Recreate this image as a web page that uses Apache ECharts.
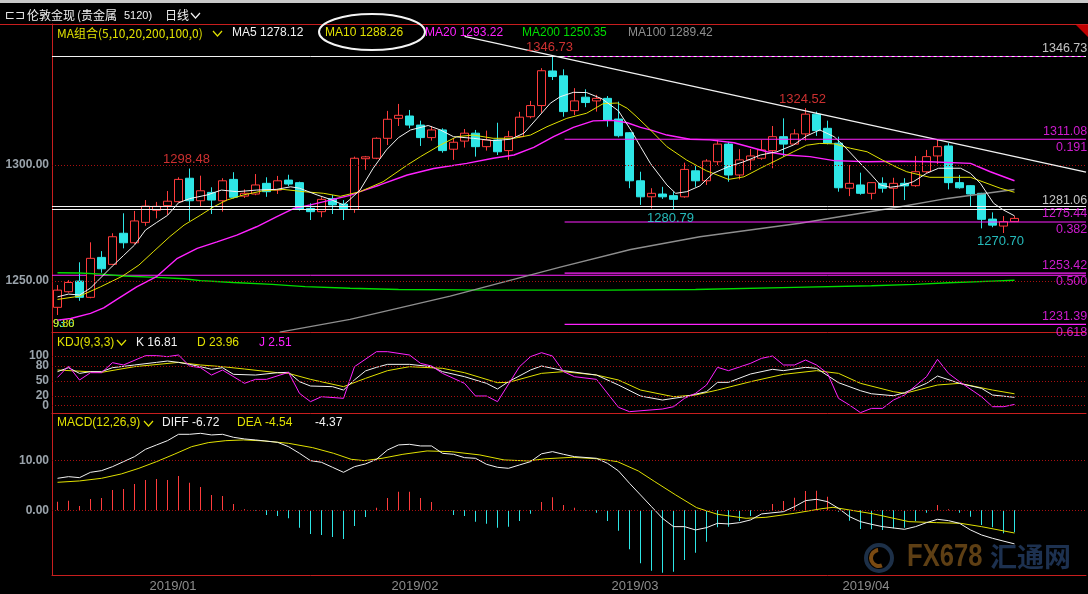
<!DOCTYPE html>
<html>
<head>
<meta charset="utf-8">
<title>伦敦金现 日线</title>
<script src="https://cdn.jsdelivr.net/npm/echarts@6/dist/echarts.min.js"></script>
<style>
  html, body { margin: 0; padding: 0; background: #000; }
  #chart { width: 1088px; height: 594px; }
</style>
</head>
<body>
<div id="chart"></div>
<script>
// trading days shown on the chart
const dates = [
  '2018/12/14','2018/12/17','2018/12/18','2018/12/19','2018/12/20','2018/12/21','2018/12/24','2018/12/26','2018/12/27','2018/12/28','2018/12/31',
  '2019/01/02','2019/01/03','2019/01/04','2019/01/07','2019/01/08','2019/01/09','2019/01/10','2019/01/11','2019/01/14','2019/01/15','2019/01/16',
  '2019/01/17','2019/01/18','2019/01/21','2019/01/22','2019/01/23','2019/01/24','2019/01/25','2019/01/28','2019/01/29','2019/01/30','2019/01/31',
  '2019/02/01','2019/02/04','2019/02/05','2019/02/06','2019/02/07','2019/02/08','2019/02/11','2019/02/12','2019/02/13','2019/02/14','2019/02/15',
  '2019/02/18','2019/02/19','2019/02/20','2019/02/21','2019/02/22','2019/02/25','2019/02/26','2019/02/27','2019/02/28',
  '2019/03/01','2019/03/04','2019/03/05','2019/03/06','2019/03/07','2019/03/08','2019/03/11','2019/03/12','2019/03/13','2019/03/14','2019/03/15',
  '2019/03/18','2019/03/19','2019/03/20','2019/03/21','2019/03/22','2019/03/25','2019/03/26','2019/03/27','2019/03/28','2019/03/29',
  '2019/04/01','2019/04/02','2019/04/03','2019/04/04','2019/04/05','2019/04/08','2019/04/09','2019/04/10','2019/04/11','2019/04/12',
  '2019/04/15','2019/04/16','2019/04/17','2019/04/18'
];
const blankDays = ['', '', '', '', '', ''];

// [open, close, low, high]
const candles = [
  [1238.7,1246.1,1235.4,1248.3],[1245.4,1249.4,1245.0,1250.4],[1250.0,1243.0,1241.5,1258.1],[1243.0,1259.8,1242.6,1266.7],
  [1260.2,1255.3,1253.6,1262.9],[1257.2,1269.1,1256.8,1270.6],[1270.6,1266.5,1264.1,1279.2],[1266.5,1275.9,1266.0,1280.2],
  [1275.3,1282.3,1273.8,1284.9],[1280.5,1282.2,1277.0,1284.1],[1282.5,1284.4,1278.5,1288.8],[1284.2,1293.8,1283.8,1294.7],
  [1294.3,1284.6,1275.9,1298.48],[1284.6,1288.9,1282.3,1295.4],[1288.2,1284.9,1278.9,1290.4],[1284.6,1293.2,1279.9,1294.3],
  [1293.8,1286.1,1285.6,1296.9],[1286.6,1287.8,1285.8,1289.5],[1287.5,1291.4,1287.0,1296.1],[1292.1,1288.5,1286.3,1294.7],
  [1289.2,1293.2,1287.5,1295.3],[1293.5,1291.8,1290.9,1295.8],[1292.4,1280.9,1280.4,1292.8],[1281.3,1279.9,1276.3,1283.5],
  [1279.9,1285.2,1277.5,1286.1],[1285.5,1282.8,1278.9,1287.1],[1283.2,1280.9,1276.3,1284.9],[1280.9,1302.9,1279.4,1303.6],
  [1302.7,1303.5,1297.9,1303.9],[1302.9,1311.5,1302.5,1311.9],[1311.5,1319.7,1308.6,1323.3],[1320.1,1321.4,1316.8,1326.3],
  [1321.1,1317.2,1315.8,1323.7],[1317.2,1311.8,1308.2,1319.1],[1311.8,1315.1,1310.5,1316.8],[1315.1,1306.2,1305.3,1315.8],
  [1306.8,1309.8,1302.2,1311.5],[1310.3,1313.7,1307.5,1315.5],[1313.7,1307.9,1303.6,1315.1],[1307.9,1310.8,1306.2,1314.8],
  [1310.8,1305.7,1304.3,1318.2],[1306.2,1312.2,1302.2,1314.7],[1312.2,1320.6,1311.8,1322.9],[1320.8,1325.6,1320.1,1327.6],
  [1325.6,1340.6,1322.5,1341.7],[1340.5,1338.1,1336.6,1346.73],[1338.4,1323.0,1320.8,1341.2],[1323.4,1327.6,1321.5,1333.1],
  [1329.2,1326.9,1324.9,1332.6],[1327.6,1328.7,1323.0,1330.2],[1328.7,1319.4,1316.5,1329.7],[1319.8,1312.6,1311.9,1327.3],
  [1313.9,1293.2,1290.0,1314.2],[1293.2,1286.3,1282.8,1297.1],[1286.3,1287.8,1281.3,1290.0],[1287.5,1286.3,1285.4,1290.6],
  [1286.8,1285.2,1280.79,1288.5],[1286.3,1298.1,1285.9,1301.0],[1297.5,1293.2,1290.6,1299.6],[1293.2,1301.7,1291.4,1302.5],
  [1301.4,1309.0,1300.0,1310.8],[1309.0,1295.7,1292.8,1310.0],[1295.7,1302.2,1293.8,1306.8],[1302.2,1303.9,1297.8,1306.9],
  [1302.9,1306.5,1302.2,1310.8],[1306.2,1312.2,1298.6,1316.8],[1312.2,1309.0,1303.6,1320.1],[1309.0,1313.4,1308.6,1315.4],
  [1313.4,1321.9,1310.5,1324.52],[1321.9,1314.8,1312.5,1323.0],[1315.8,1309.4,1308.9,1319.1],[1309.4,1290.2,1288.5,1312.2],
  [1290.0,1292.1,1286.6,1300.0],[1291.4,1287.8,1287.2,1296.7],[1287.8,1292.4,1285.2,1292.6],[1292.1,1290.0,1288.1,1294.7],
  [1290.0,1292.1,1282.0,1294.5],[1292.1,1291.0,1284.9,1294.3],[1291.1,1297.1,1290.6,1303.9],[1297.1,1303.6,1296.4,1306.5],
  [1303.9,1307.9,1300.4,1310.8],[1308.2,1292.4,1289.5,1309.4],[1292.4,1290.2,1289.8,1295.7],[1291.1,1287.5,1282.3,1291.3],
  [1287.8,1276.6,1272.7,1288.0],[1276.7,1274.1,1273.2,1279.6],[1273.7,1275.6,1270.70,1278.0],[1275.6,1277.0,1275.4,1278.0]
];

// moving averages, [day index, value]
const ma5 = [[0,1243.2],[1,1244.4],[2,1244.0],[3,1247.0],[5,1256.5],[6,1261.0],[7,1265.5],[8,1272.0],[9,1275.2],[10,1278.3],
  [11,1283.7],[12,1285.5],[13.6,1287.1],[14.9,1289.2],[16.3,1288.5],[18.1,1289.2],[19.9,1289.5],[21.2,1290.6],[22,1290.0],
  [23.6,1287.1],[24.8,1285.2],[26,1282.8],[26.6,1285.2],[27.5,1289.2],[28.7,1298.6],[29.9,1306.5],[31,1311.8],[32.1,1315.1],
  [33.7,1317.0],[34.8,1315.1],[36,1312.2],[37.8,1311.5],[39.6,1310.5],[41.2,1311.1],[42.4,1313.7],[43.6,1320.1],[44.8,1326.6],
  [45.7,1329.4],[46.9,1331.3],[48.1,1331.2],[49.5,1328.5],[51,1323.3],[52.2,1314.5],[53,1307.9],[53.9,1300.7],[55.4,1291.4],
  [56.2,1287.8],[57.2,1288.5],[58.4,1291.0],[59.6,1296.4],[61,1299.3],[62.4,1301.4],[63.9,1304.3],[65.4,1305.7],[66.9,1308.6],
  [68.1,1312.5],[69.3,1315.1],[70.6,1312.2],[71.5,1308.2],[72.7,1302.1],[74,1295.7],[74.8,1291.4],[75.7,1290.4],[76.6,1291.0],
  [77.8,1292.8],[79,1296.4],[80.1,1298.6],[82.1,1298.6],[83,1296.4],[83.9,1292.1],[85.1,1283.5],[86,1280.6],[87,1278.12]];
const ma10 = [[0,1242.1],[2,1243.5],[3.9,1247.5],[5.9,1252.1],[7.4,1256.9],[8.7,1262.6],[10.2,1269.1],[11.5,1274.1],[13,1278.4],
  [14.2,1282.0],[15.4,1284.9],[16.9,1287.1],[18.7,1288.9],[20.5,1289.5],[22.4,1288.5],[24.2,1287.8],[25.7,1286.5],[27.5,1288.5],
  [29.6,1292.8],[31.8,1300.0],[33,1303.6],[34.8,1308.6],[36.3,1312.2],[37.8,1312.9],[39.6,1311.5],[41.5,1311.5],[43,1312.9],
  [44.5,1316.5],[46.3,1320.1],[48.1,1322.3],[49.6,1326.4],[50.9,1326.7],[51.8,1324.4],[52.6,1321.0],[53.9,1315.1],[55.4,1307.9],
  [57.2,1302.1],[59,1297.5],[61,1293.8],[62.4,1294.9],[63.9,1298.6],[65.4,1302.1],[66.9,1305.7],[68.1,1308.5],[69.3,1309.3],
  [70.6,1309.1],[72.1,1307.2],[73.6,1305.7],[75,1302.1],[76.3,1299.0],[77.2,1297.1],[79.3,1294.7],[83,1294.7],[84.5,1292.1],
  [85.7,1290.0],[87,1288.26]];
const ma20 = [[0,1233.2],[1.2,1233.9],[3,1236.1],[4.2,1238.5],[5.4,1242.1],[7.2,1247.5],[9,1251.9],[10.9,1259.8],[12.7,1264.1],
  [14.5,1266.9],[16.3,1269.8],[18.1,1273.4],[19.9,1277.7],[21.5,1281.3],[23,1282.8],[24.8,1284.9],[26.6,1286.9],[27.5,1288.5],
  [29.3,1291.4],[31.8,1295.7],[34.2,1298.5],[37.2,1300.7],[39.6,1302.9],[41.5,1304.3],[43.3,1307.6],[45.1,1312.2],[46.9,1316.2],
  [48.7,1319.0],[50.5,1319.2],[51.8,1318.2],[53,1316.2],[53.9,1315.1],[55.4,1312.9],[57.5,1311.1],[59.3,1310.8],[61.5,1309.6],
  [64.5,1305.7],[66.3,1304.3],[68.4,1303.6],[70.6,1301.9],[73.6,1301.4],[76.6,1301.6],[79.3,1301.4],[83,1300.7],[84.8,1297.1],
  [87,1293.22]];
const ma200 = [[0,1253.6],[2,1253.5],[4,1253.0],[6,1252.2],[9,1251.6],[11.5,1251.0],[13,1250.2],[16,1249.4],[19.5,1248.6],
  [22.5,1247.6],[26.6,1246.9],[31,1246.4],[40,1246.1],[50,1246.1],[58,1246.4],[67,1247.3],[74,1248.0],[78,1248.6],[81,1249.3],
  [85,1250.0],[87,1250.35]];
const ma100 = [[20.2,1228.0],[26.6,1233.5],[35.7,1243.5],[45.7,1256.0],[52.1,1263.6],[58.4,1269.1],[67.5,1274.9],[76.6,1282.0],
  [80.9,1285.6],[87,1289.42]];

// drawn lines on the price panel
const trendLine = [[37, 1355.4], [93.5, 1296.9]];
const whiteLevels = [1346.73, 1282.12, 1280.83];
const midLevel = 1252.5;
const fibStart = 46.1;
const fibLevels = [1311.08, 1275.44, 1253.42, 1231.39];
const fibRatios = ['0.191', '0.382', '0.500', '0.618'];
const topLevel = 1346.73;
const supportLabel = 1281.06;
const highMarks = [[12, 1298.48], [45, 1346.73], [68, 1324.52]];
const lowMarks = [[56, 1280.79], [86, 1270.70]];

// KDJ(9,3,3)
const kLine = [[0,68.5],[1,76.5],[2,65],[3,68.5],[4,68.5],[5,76.5],[7,81.9],[9,87.2],[10,89.9],[11,87.2],[12,83.2],[13,78.5],
  [14,73.2],[15,76.5],[16,63.1],[18,61.7],[20,66.4],[21,67.1],[22,48.3],[23,39.6],[25,38.3],[26,31.5],[27,52],[28,70],[29,77.2],
  [30,83.2],[32,83.2],[34,78.5],[35,68.5],[37,58.4],[39,45],[40,33.6],[41,48.3],[43,71.8],[44,79.9],[46,70.5],[49,61.7],[51,41.6],
  [53,19.5],[55,11.4],[57,18.1],[59,28.2],[60,47],[61,47],[63,63.8],[65,73.2],[66,70.5],[68,77.2],[69,75.2],[71,46.3],[73,30.2],
  [74,24],[76,20.1],[77,26.2],[79,45],[80,59.7],[82,45],[84,34.9],[85,21.5],[87,16.81]];
const dLine = [[0,71.8],[4,67.1],[7,78.5],[11,87.2],[13,81.9],[15,78.5],[17,73.8],[20,66.4],[21,65.1],[23,53],[26,38.3],[28,55],
  [30,70.5],[32,78.5],[35,75.2],[37,66.4],[40,46.3],[41,47],[44,65.1],[46,68.5],[49,61.7],[51,51.7],[53,31.5],[56,18.1],[58,21.5],
  [60,31.5],[63,48.3],[66,63.1],[69,70.5],[71,65.1],[73,45],[76,28.2],[77,24.8],[80,41.6],[82,45],[85,31.5],[87,23.96]];
const jLine = [[0,57],[1,79.9],[2,51.7],[3,66.4],[4,66.4],[5,86.6],[6,81.9],[8,100.7],[9,100.7],[10,98.7],[11,102],[12,79.9],
  [13,76.5],[14,61.7],[15,71.8],[17,45],[18,53],[19,53],[21,67.1],[22,24.8],[23,8.1],[24,18.1],[26,14.8],[27,78.5],[29,108.7],
  [30,108.7],[32,102],[33,85.2],[34,79.9],[35,65.1],[37,45],[38,19.5],[39,19.5],[40,8.1],[42,78.5],[43,98.7],[44,106.7],[45,100],
  [46,68.5],[47,58.4],[49,53],[51,-3.3],[52,-12],[55,-6.7],[56,-2],[57,14.8],[58,24.8],[59,41.6],[60,77.2],[61,70.5],[63,85.2],
  [64,95.3],[65,100],[66,81.9],[67,81.9],[68,91.9],[69,81.9],[70,65.1],[71,14.8],[72,1.3],[73,-14],[74,-5.4],[75,-5.4],[76,11.4],
  [77,21.5],[79,58.4],[80,93.3],[81,65.1],[82,48.3],[84,18.1],[85,-2],[86,-2],[87,2.51]];
const kdjTicks = [0, 20, 50, 80, 100];

// MACD(12,26,9)
const diffLine = [[0,6.4],[1,6.73],[2,6.53],[3,7.6],[4,7.93],[5,8.73],[6,9.73],[7,10.73],[8,12.2],[9,13.07],[10,13.93],[11,15.2],
  [12,15.2],[13,15.4],[14,15.07],[15,15.2],[16,14.6],[17,14.27],[18,14.07],[20,13.6],[21,12.73],[22,11.4],[23,9.93],[24,9.6],
  [25,8.6],[26,7.6],[27,8.73],[28,9.27],[29,10.2],[30,12.07],[31,13.07],[32,13.2],[33,12.87],[34,12.87],[35,11.4],[36,11.2],
  [37,10.53],[38,10.4],[39,9.2],[40,8.6],[41,8.4],[42,9.07],[43,9.73],[44,11.3],[45,11.73],[46,11.2],[47,10.73],[49,10.4],
  [50,9.4],[51,7.87],[52,5.4],[53,3.07],[54,0.73],[55,-1.6],[56,-3.27],[57,-3.27],[58,-3.93],[59,-3.47],[60,-2.6],[61,-2.73],
  [62,-2.47],[63,-1.93],[64,-0.73],[66,-0.27],[67,0.73],[68,1.93],[69,2.2],[70,1.73],[71,0.4],[72,-1.27],[73,-2.27],[74,-2.8],
  [75,-3.27],[77,-3.8],[78,-3.27],[79,-2.47],[80,-1.8],[81,-2.07],[82,-2.6],[83,-3.93],[84,-4.93],[85,-5.6],[87,-6.72]];
const deaLine = [[0,5.6],[2,5.87],[4,6.4],[5.8,7.27],[7.4,8.4],[9,9.73],[10.6,11.2],[12.2,12.73],[13.7,13.53],[15.3,13.93],
  [16.9,14.07],[18.8,13.87],[21,13.4],[23.2,12.53],[25.1,11.4],[26.7,10.2],[27.9,9.93],[29.5,10.4],[31.4,11.2],[33.6,11.87],
  [35.8,11.73],[38.4,11.07],[40.6,10.07],[42.8,9.87],[44.3,10.3],[46.8,10.6],[49.3,10.27],[50.9,9.73],[52.8,7.87],[54.3,5.73],
  [56.2,3.07],[58.1,0.53],[60,-0.8],[62.6,-1.6],[64.4,-1.4],[67,-0.6],[69.5,0.33],[70.5,0.6],[72,0.07],[74.2,-0.73],[77.4,-2.27],
  [79.9,-2.47],[82.1,-2.6],[84,-3.27],[87,-4.54]];
const macdHist = [1.73,1.93,0.87,2.27,2.47,4.07,4.27,5.27,6.07,6.27,6.07,6.87,5.53,4.67,3.07,2.87,1.27,0.2,-0.07,-0.93,
  -1.13,-1.6,-3.47,-4.73,-4.93,-5.33,-5.73,-3.13,-1.33,0.53,2.47,3.73,3.73,2.47,1.67,0,-0.93,-1.13,-2.27,-2.67,
  -3.47,-3.27,-2.13,-0.67,1.67,2.6,1.07,0.53,-0.07,-0.47,-2.13,-4.07,-7.8,-10.6,-12.07,-12.47,-12.27,-9.93,-8.47,-6.27,
  -3.4,-3.27,-2.13,-1.13,0.05,1.27,1.87,2.53,3.87,3.93,2.73,-0.27,-2.07,-3.73,-3.8,-3.93,-3.6,-3.47,-2.13,-0.47,
  1.07,0.2,-0.47,-1.27,-2.93,-3.4,-4.6,-4.37];
const macdTicks = [0, 10];
const priceTicks = [1250, 1300];

(function () {
  const chart = echarts.init(document.getElementById('chart'));

  const RED = '#c81e1e';
  const DOT = '#a81010';
  const UP = '#ff3c3c';
  const DOWN = '#2ee6e6';
  const WHITE = '#f2f2f2';
  const YELLOW = '#e0e000';
  const MAGENTA = '#ff22ff';
  const GREEN = '#00dc00';
  const GRAY = '#8e8e8e';
  const AXIS_TXT = '#9aa3ab';
  const FONT = '"Liberation Sans", Arial, sans-serif';
  const CJK = '"Noto Sans CJK SC", "Liberation Sans", sans-serif';

  const categories = dates.concat(blankDays);
  const xMax = categories.length - 0.5;
  const last = arr => arr[arr.length - 1][1];

  const catAxis = (grid, showLabel) => ({
    type: 'category', gridIndex: grid, data: categories, boundaryGap: true,
    axisLine: { show: true, onZero: false, lineStyle: { color: RED, width: 1 } },
    axisTick: { show: false }, splitLine: { show: false },
    axisLabel: showLabel ? {
      show: true, color: '#8c8c8c', fontSize: 13, fontFamily: FONT, margin: 5,
      padding: [0, 11, 0, 0],
      interval: (idx, v) => v !== '' && (idx === 0 ? false : v.slice(0, 7) !== categories[idx - 1].slice(0, 7)),
      formatter: v => v.slice(0, 7)
    } : { show: false }
  });
  const valAxis = grid => ({
    type: 'value', gridIndex: grid, min: -0.5, max: xMax, show: false,
    axisLine: { onZero: false }, splitLine: { show: false }
  });
  const yAxis = (grid, min, max, ticks, digits, showLine) => ({
    type: 'value', gridIndex: grid, min: min, max: max, position: 'left',
    axisLine: { show: showLine !== false, onZero: false, lineStyle: { color: RED, width: 1 } },
    axisTick: { show: false }, splitLine: { show: false },
    axisLabel: {
      show: true, customValues: ticks, color: AXIS_TXT, fontWeight: 'bold', fontSize: 12, hideOverlap: false,
      fontFamily: FONT, margin: 3, padding: [5, 0, 0, 0], backgroundColor: 'rgba(0,0,0,0)',
      formatter: v => Number(v).toFixed(digits)
    }
  });
  const dotted = vals => ({
    silent: true, symbol: 'none', label: { show: false },
    lineStyle: { color: DOT, type: [1, 2], width: 1 },
    data: vals.map(v => ({ yAxis: v }))
  });
  const line = (data, color, width, xi, yi, extra) => Object.assign({
    type: 'line', data: data, xAxisIndex: xi, yAxisIndex: yi, symbol: 'none', silent: true,
    lineStyle: { color: color, width: width }, z: 4, animation: false
  }, extra || {});
  const flat = (v, from) => [[from, v], [xMax, v]];

  // labels on the right edge of the price panel
  const edgeLabel = (v, text, color, above) => ({
    value: [xMax - 0.05, v],
    label: {
      show: true, formatter: text, color: color, fontSize: 12.5, fontFamily: FONT,
      position: [2.3, above ? -7.5 : 8.5], align: 'right', verticalAlign: 'middle'
    }
  });
  const edgeLabels = [edgeLabel(topLevel, topLevel.toFixed(2), WHITE, true),
    edgeLabel(supportLabel, supportLabel.toFixed(2), WHITE, true)];
  fibLevels.forEach((v, i) => {
    edgeLabels.push(edgeLabel(v, v.toFixed(2), MAGENTA, true));
    edgeLabels.push(edgeLabel(v, fibRatios[i], MAGENTA, false));
  });
  const markLabel = (p, color, above) => ({
    value: p,
    label: {
      show: true, formatter: p[1].toFixed(2), color: color, fontSize: 13, fontFamily: FONT,
      position: [-2.5, above ? -8.5 : 9], align: 'center', verticalAlign: 'middle'
    }
  });
  const extremes = highMarks.map(p => markLabel(p, UP, true))
    .concat(lowMarks.map(p => markLabel(p, DOWN, false)));

  const series = [
    {
      type: 'candlestick', xAxisIndex: 0, yAxisIndex: 0, data: candles.map(c => c.slice()),
      barWidth: 9, silent: true, z: 3,
      itemStyle: { color: '#000', color0: DOWN, borderColor: UP, borderColor0: DOWN, borderWidth: 1 },
      markLine: dotted(priceTicks)
    },
    line(flat(midLevel, -0.5), MAGENTA, 1, 3, 0, { z: 2 }),
    line(ma200, GREEN, 1.4, 3, 0),
    line(ma100, GRAY, 1.4, 3, 0),
    line(ma20, MAGENTA, 1.4, 3, 0),
    line(ma10, YELLOW, 1, 3, 0),
    line(ma5, WHITE, 1, 3, 0),
    line(trendLine, WHITE, 1.2, 3, 0, { z: 5 })
  ];
  whiteLevels.forEach(v => series.push(line(flat(v, -0.5), WHITE, 1, 3, 0, { z: 5 })));
  series.push(line(flat(topLevel, fibStart), MAGENTA, 1, 3, 0, { z: 6, lineStyle: { color: MAGENTA, width: 1, type: [3, 3] } }));
  fibLevels.forEach(v => series.push(line(flat(v, fibStart), MAGENTA, 1.2, 3, 0, { z: 5 })));
  series.push({
    type: 'scatter', xAxisIndex: 3, yAxisIndex: 0, symbolSize: 1, silent: true, z: 8,
    itemStyle: { color: 'rgba(0,0,0,0)' }, data: edgeLabels.concat(extremes)
  });

  // KDJ panel
  series.push(line(dLine, YELLOW, 1, 4, 1, { markLine: dotted(kdjTicks), z: 3 }));
  series.push(line(kLine, WHITE, 1, 4, 1));
  series.push(line(jLine, MAGENTA, 1, 4, 1));

  // MACD panel
  series.push({
    type: 'bar', xAxisIndex: 2, yAxisIndex: 2, data: macdHist, barWidth: 1, silent: true,
    itemStyle: { color: p => (p.value >= 0 ? UP : DOWN) },
    markLine: dotted(macdTicks)
  });
  series.push(line(deaLine, YELLOW, 1, 5, 2));
  series.push(line(diffLine, WHITE, 1, 5, 2));

  const txt = (x, y, text, color, font, extra) => Object.assign({
    type: 'text', x: x, y: y, silent: true,
    style: { text: text, fill: color, font: font || ('12px ' + FONT), verticalAlign: 'middle' }
  }, extra || {});
  const chevron = (x, y, color) => ({
    type: 'polyline', silent: true,
    shape: { points: [[x, y], [x + 4.5, y + 5], [x + 9, y]] },
    style: { stroke: color, lineWidth: 1.2, fill: 'none' }
  });

  const kLast = last(kLine), dLast = last(dLine), jLast = last(jLine);
  const diffLast = last(diffLine), deaLast = last(deaLine), histLast = macdHist[macdHist.length - 1];

  const graphic = [
    { type: 'rect', silent: true, shape: { x: 0, y: 0, width: 1088, height: 3 }, style: { fill: '#c9c9c9' } },
    { type: 'line', silent: true, shape: { x1: 0, y1: 24.5, x2: 1088, y2: 24.5 }, style: { stroke: RED, lineWidth: 1 } },
    { type: 'polygon', silent: true, shape: { points: [[1076, 25], [1088, 25], [1088, 37]] }, style: { fill: '#c00000' } },
    txt(5, 15.5, '⊏⊐', '#e6e6e6', '12px "DejaVu Sans", sans-serif'),
    txt(27, 15.5, '伦敦金现', '#f0f0f0', '12px ' + CJK),
    txt(77, 15.5, '(贵金属', '#f0f0f0', '12px ' + CJK),
    txt(124, 15.5, '5120)', '#f0f0f0', '11px ' + FONT),
    txt(165, 15.5, '日线', '#f0f0f0', '12px ' + CJK),
    chevron(191, 13, '#f0f0f0'),

    txt(57, 33, 'MA组合(5,10,20,200,100,0)', YELLOW, '12px ' + CJK),
    chevron(213, 31, YELLOW),
    txt(232, 33, 'MA5 ' + last(ma5).toFixed(2), WHITE),
    txt(325, 33, 'MA10 ' + last(ma10).toFixed(2), YELLOW),
    txt(425, 33, 'MA20 ' + last(ma20).toFixed(2), MAGENTA),
    txt(522, 33, 'MA200 ' + last(ma200).toFixed(2), GREEN),
    txt(628, 33, 'MA100 ' + last(ma100).toFixed(2), GRAY),
    { type: 'ellipse', silent: true, z: 100, shape: { cx: 372, cy: 32, rx: 53, ry: 18 }, style: { stroke: '#f4f4f4', lineWidth: 2, fill: 'none' } },

    txt(53, 324, '93.6', DOWN, '11px ' + FONT),
    txt(53, 324, '9.80', YELLOW, '11px ' + FONT),

    txt(57, 342.5, 'KDJ(9,3,3)', YELLOW),
    chevron(117, 340, YELLOW),
    txt(136, 342.5, 'K ' + kLast.toFixed(2), WHITE),
    txt(197, 342.5, 'D ' + dLast.toFixed(2), YELLOW),
    txt(259, 342.5, 'J ' + jLast.toFixed(2), MAGENTA),

    txt(57, 422.5, 'MACD(12,26,9)', YELLOW),
    chevron(144, 421, YELLOW),
    txt(162, 422.5, 'DIFF ' + diffLast.toFixed(2), WHITE),
    txt(237, 422.5, 'DEA ' + deaLast.toFixed(2), YELLOW),
    txt(315, 422.5, histLast.toFixed(2), WHITE),

    { type: 'circle', silent: true, shape: { cx: 879, cy: 558, r: 13 }, style: { fill: 'none', stroke: '#1d3048', lineWidth: 4 } },
    { type: 'arc', silent: true, shape: { cx: 879, cy: 558, r: 8, startAngle: 1.2, endAngle: 4.6 }, style: { fill: 'none', stroke: '#7a4a12', lineWidth: 4 } },
    txt(907, 557, 'FX678', '#5e3f14', 'bold 32px ' + FONT, { scaleX: 0.8 }),
    txt(990, 557, '汇通网', '#1d3150', 'bold 27px ' + CJK)
  ];

  chart.setOption({
    backgroundColor: '#000',
    animation: false,
    grid: [
      { left: 52, right: 2, top: 24, height: 308, outerBoundsMode: 'none' },
      { left: 52, right: 2, top: 332, height: 81, outerBoundsMode: 'none' },
      { left: 52, right: 2, top: 413, height: 162, outerBoundsMode: 'none' }
    ],
    xAxis: [catAxis(0, false), catAxis(1, false), catAxis(2, true), valAxis(0), valAxis(1), valAxis(2)],
    yAxis: [
      yAxis(0, 1228.07, 1360.73, priceTicks, 2),
      yAxis(1, -14.7, 148.3, [0, 50, 100], 0),
      yAxis(2, -12.94, 19.46, macdTicks, 2),
      yAxis(1, -14.7, 148.3, [20, 80], 0, false)
    ],
    series: series,
    graphic: graphic
  });

  window.addEventListener('resize', () => chart.resize());
})();
</script>
</body>
</html>
